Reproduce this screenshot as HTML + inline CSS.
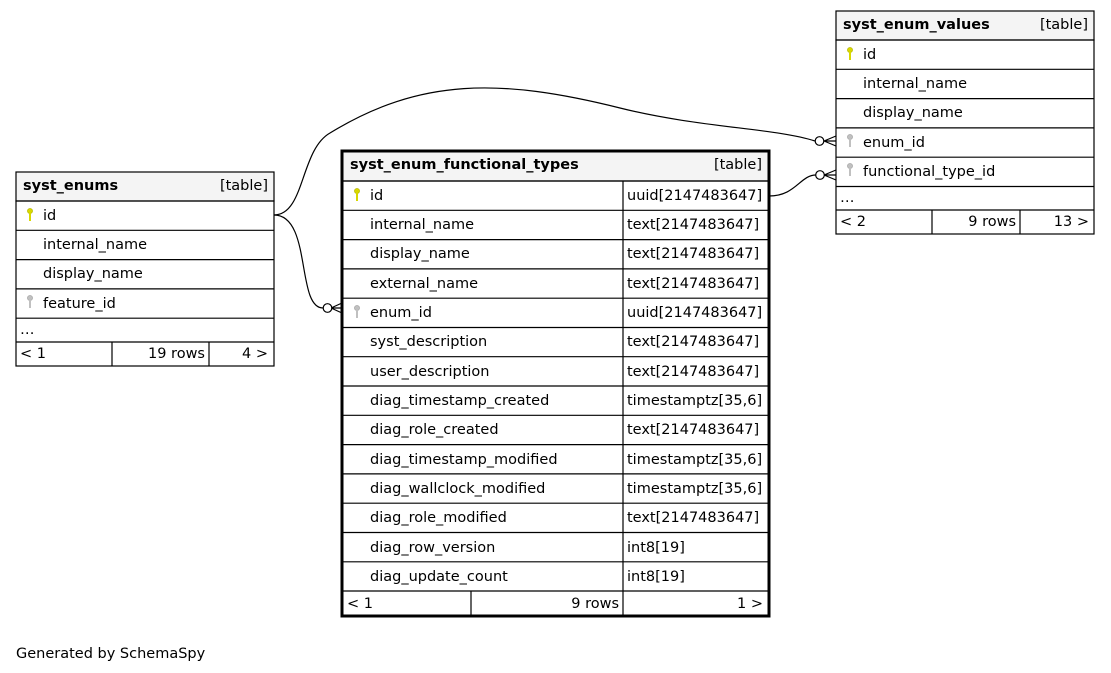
<!DOCTYPE html>
<html><head><meta charset="utf-8"><style>
html,body{margin:0;padding:0;background:#fff;}
svg{display:block;font-family:"DejaVu Sans","Liberation Sans",sans-serif;font-size:14.5px;}
.b{font-weight:bold;}
.r{text-anchor:end;}
</style></head><body>
<svg width="1111" height="673" viewBox="0 0 1111 673" xmlns="http://www.w3.org/2000/svg">
<defs>
<g id="kp"><circle cx="0" cy="0" r="2.6" fill="#d8d800" stroke="#b0b000" stroke-width="0.6"/><rect x="-1" y="2" width="2" height="8" fill="#d8d800"/></g>
<g id="kf"><circle cx="0" cy="0" r="2.6" fill="#c0c0c0" stroke="#a0a0a0" stroke-width="0.6"/><rect x="-1" y="2" width="2" height="8" fill="#c0c0c0"/></g>
</defs>

<!-- connectors -->
<g fill="none" stroke="#000" stroke-width="1.2">
<path d="M274,215 C305,215 300,150 330,133 C420,78 500,78 620,108 C700,128 775,128 815,141"/>
<path d="M274,215 C312,215 296,308 323,308"/>
<path d="M769,196 C796,196 800,175 816,175"/>
<path d="M824,141 L836,136 M824,141 L836,146 M824,141 L836,141"/>
<path d="M824,175 L836,170 M824,175 L836,180 M824,175 L836,175"/>
<path d="M331,308 L342,303 M331,308 L342,313 M331,308 L342,308"/>
</g>
<circle cx="819.5" cy="141" r="4.3" fill="#fff" stroke="#000" stroke-width="1.2"/>
<circle cx="820" cy="175" r="4.3" fill="#fff" stroke="#000" stroke-width="1.2"/>
<circle cx="327.5" cy="308" r="4.3" fill="#fff" stroke="#000" stroke-width="1.2"/>

<!-- syst_enums -->
<g stroke="#000" stroke-width="1.2" fill="none">
<rect x="16" y="172" width="258" height="29" fill="#f4f4f4"/>
<rect x="16" y="201" width="258" height="165"/>
<line x1="16" y1="230.3" x2="274" y2="230.3"/>
<line x1="16" y1="259.6" x2="274" y2="259.6"/>
<line x1="16" y1="288.9" x2="274" y2="288.9"/>
<line x1="16" y1="318.2" x2="274" y2="318.2"/>
<line x1="16" y1="342" x2="274" y2="342"/>
<line x1="112" y1="342" x2="112" y2="366"/>
<line x1="209" y1="342" x2="209" y2="366"/>
</g>
<text x="23" y="190" class="b">syst_enums</text>
<text x="268" y="190" class="r">[table]</text>
<use href="#kp" x="30" y="211"/>
<text x="43" y="220">id</text>
<text x="43" y="249">internal_name</text>
<text x="43" y="278">display_name</text>
<use href="#kf" x="30" y="298"/>
<text x="43" y="308">feature_id</text>
<text x="20" y="334">…</text>
<text x="20" y="358">&lt; 1</text>
<text x="205" y="358" class="r">19 rows</text>
<text x="268" y="358" class="r">4 &gt;</text>

<!-- syst_enum_functional_types -->
<g stroke="#000" stroke-width="1.2" fill="none">
<rect x="342" y="151" width="427" height="30" fill="#f4f4f4"/>
<line x1="342" y1="210.3" x2="769" y2="210.3"/>
<line x1="342" y1="239.6" x2="769" y2="239.6"/>
<line x1="342" y1="268.9" x2="769" y2="268.9"/>
<line x1="342" y1="298.2" x2="769" y2="298.2"/>
<line x1="342" y1="327.5" x2="769" y2="327.5"/>
<line x1="342" y1="356.7" x2="769" y2="356.7"/>
<line x1="342" y1="386" x2="769" y2="386"/>
<line x1="342" y1="415.3" x2="769" y2="415.3"/>
<line x1="342" y1="444.6" x2="769" y2="444.6"/>
<line x1="342" y1="473.9" x2="769" y2="473.9"/>
<line x1="342" y1="503.2" x2="769" y2="503.2"/>
<line x1="342" y1="532.5" x2="769" y2="532.5"/>
<line x1="342" y1="561.8" x2="769" y2="561.8"/>
<line x1="342" y1="591" x2="769" y2="591"/>
<line x1="342" y1="181" x2="769" y2="181"/>
<line x1="623" y1="181" x2="623" y2="616"/>
<line x1="471" y1="591" x2="471" y2="616"/>
<rect x="342" y="151" width="427" height="465" stroke-width="3"/>
</g>
<text x="350" y="169" class="b">syst_enum_functional_types</text>
<text x="762" y="169" class="r">[table]</text>
<use href="#kp" x="357" y="191"/>
<text x="370" y="200">id</text><text x="627" y="200">uuid[2147483647]</text>
<text x="370" y="229">internal_name</text><text x="627" y="229">text[2147483647]</text>
<text x="370" y="258">display_name</text><text x="627" y="258">text[2147483647]</text>
<text x="370" y="288">external_name</text><text x="627" y="288">text[2147483647]</text>
<use href="#kf" x="357" y="308"/>
<text x="370" y="317">enum_id</text><text x="627" y="317">uuid[2147483647]</text>
<text x="370" y="346">syst_description</text><text x="627" y="346">text[2147483647]</text>
<text x="370" y="376">user_description</text><text x="627" y="376">text[2147483647]</text>
<text x="370" y="405">diag_timestamp_created</text><text x="627" y="405">timestamptz[35,6]</text>
<text x="370" y="434">diag_role_created</text><text x="627" y="434">text[2147483647]</text>
<text x="370" y="464">diag_timestamp_modified</text><text x="627" y="464">timestamptz[35,6]</text>
<text x="370" y="493">diag_wallclock_modified</text><text x="627" y="493">timestamptz[35,6]</text>
<text x="370" y="522">diag_role_modified</text><text x="627" y="522">text[2147483647]</text>
<text x="370" y="552">diag_row_version</text><text x="627" y="552">int8[19]</text>
<text x="370" y="581">diag_update_count</text><text x="627" y="581">int8[19]</text>
<text x="347" y="608">&lt; 1</text>
<text x="619" y="608" class="r">9 rows</text>
<text x="763" y="608" class="r">1 &gt;</text>

<!-- syst_enum_values -->
<g stroke="#000" stroke-width="1.2" fill="none">
<rect x="836" y="11" width="258" height="29" fill="#f4f4f4"/>
<rect x="836" y="40" width="258" height="194"/>
<line x1="836" y1="69.3" x2="1094" y2="69.3"/>
<line x1="836" y1="98.6" x2="1094" y2="98.6"/>
<line x1="836" y1="127.9" x2="1094" y2="127.9"/>
<line x1="836" y1="157.2" x2="1094" y2="157.2"/>
<line x1="836" y1="186.5" x2="1094" y2="186.5"/>
<line x1="836" y1="210" x2="1094" y2="210"/>
<line x1="932" y1="210" x2="932" y2="234"/>
<line x1="1020" y1="210" x2="1020" y2="234"/>
</g>
<text x="843" y="29" class="b">syst_enum_values</text>
<text x="1088" y="29" class="r">[table]</text>
<use href="#kp" x="850" y="50"/>
<text x="863" y="59">id</text>
<text x="863" y="88">internal_name</text>
<text x="863" y="117">display_name</text>
<use href="#kf" x="850" y="137"/>
<text x="863" y="147">enum_id</text>
<use href="#kf" x="850" y="166"/>
<text x="863" y="176">functional_type_id</text>
<text x="840" y="202">…</text>
<text x="840" y="226">&lt; 2</text>
<text x="1016" y="226" class="r">9 rows</text>
<text x="1089" y="226" class="r">13 &gt;</text>

<text x="16" y="658">Generated by SchemaSpy</text>
</svg>
</body></html>
